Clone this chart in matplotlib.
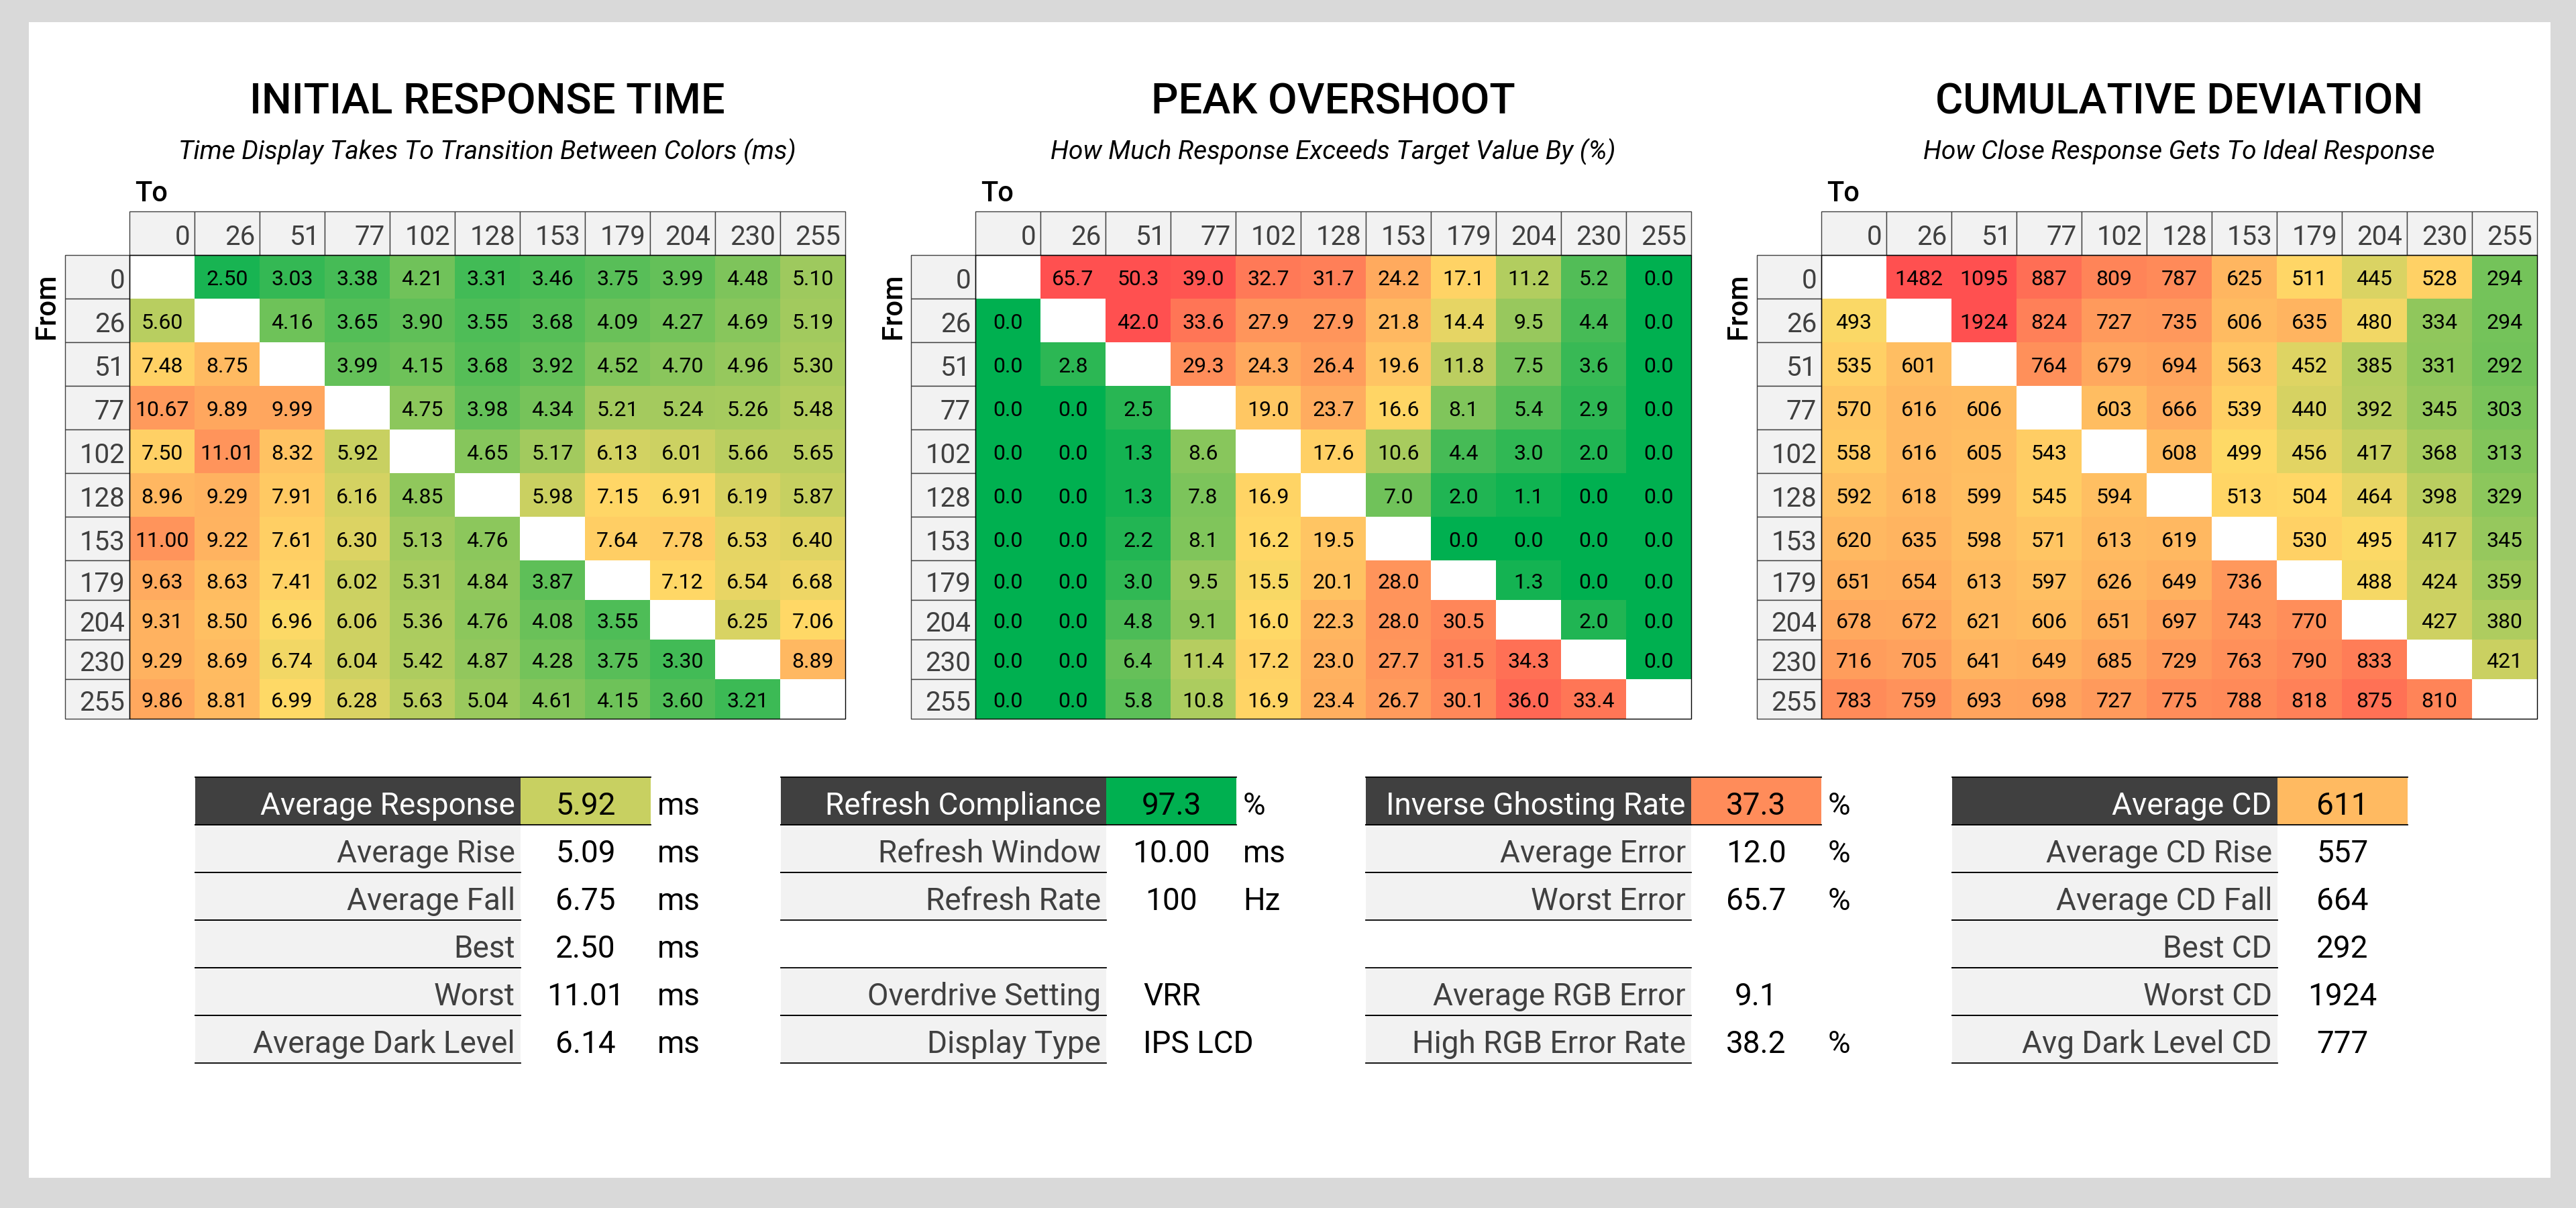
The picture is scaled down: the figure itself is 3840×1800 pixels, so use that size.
import numpy as np
import matplotlib
matplotlib.use("Agg")
import matplotlib.pyplot as plt
from matplotlib.colors import LinearSegmentedColormap, TwoSlopeNorm
from matplotlib.patches import Rectangle

plt.rcParams['font.family'] = ['Roboto', 'DejaVu Sans']

nan = np.nan
levels = [0, 26, 51, 77, 102, 128, 153, 179, 204, 230, 255]

response_ms = [
    [nan, 2.50, 3.03, 3.38, 4.21, 3.31, 3.46, 3.75, 3.99, 4.48, 5.10],
    [5.60, nan, 4.16, 3.65, 3.90, 3.55, 3.68, 4.09, 4.27, 4.69, 5.19],
    [7.48, 8.75, nan, 3.99, 4.15, 3.68, 3.92, 4.52, 4.70, 4.96, 5.30],
    [10.67, 9.89, 9.99, nan, 4.75, 3.98, 4.34, 5.21, 5.24, 5.26, 5.48],
    [7.50, 11.01, 8.32, 5.92, nan, 4.65, 5.17, 6.13, 6.01, 5.66, 5.65],
    [8.96, 9.29, 7.91, 6.16, 4.85, nan, 5.98, 7.15, 6.91, 6.19, 5.87],
    [11.00, 9.22, 7.61, 6.30, 5.13, 4.76, nan, 7.64, 7.78, 6.53, 6.40],
    [9.63, 8.63, 7.41, 6.02, 5.31, 4.84, 3.87, nan, 7.12, 6.54, 6.68],
    [9.31, 8.50, 6.96, 6.06, 5.36, 4.76, 4.08, 3.55, nan, 6.25, 7.06],
    [9.29, 8.69, 6.74, 6.04, 5.42, 4.87, 4.28, 3.75, 3.30, nan, 8.89],
    [9.86, 8.81, 6.99, 6.28, 5.63, 5.04, 4.61, 4.15, 3.60, 3.21, nan],
]

overshoot_pct = [
    [nan, 65.7, 50.3, 39.0, 32.7, 31.7, 24.2, 17.1, 11.2, 5.2, 0.0],
    [0.0, nan, 42.0, 33.6, 27.9, 27.9, 21.8, 14.4, 9.5, 4.4, 0.0],
    [0.0, 2.8, nan, 29.3, 24.3, 26.4, 19.6, 11.8, 7.5, 3.6, 0.0],
    [0.0, 0.0, 2.5, nan, 19.0, 23.7, 16.6, 8.1, 5.4, 2.9, 0.0],
    [0.0, 0.0, 1.3, 8.6, nan, 17.6, 10.6, 4.4, 3.0, 2.0, 0.0],
    [0.0, 0.0, 1.3, 7.8, 16.9, nan, 7.0, 2.0, 1.1, 0.0, 0.0],
    [0.0, 0.0, 2.2, 8.1, 16.2, 19.5, nan, 0.0, 0.0, 0.0, 0.0],
    [0.0, 0.0, 3.0, 9.5, 15.5, 20.1, 28.0, nan, 1.3, 0.0, 0.0],
    [0.0, 0.0, 4.8, 9.1, 16.0, 22.3, 28.0, 30.5, nan, 2.0, 0.0],
    [0.0, 0.0, 6.4, 11.4, 17.2, 23.0, 27.7, 31.5, 34.3, nan, 0.0],
    [0.0, 0.0, 5.8, 10.8, 16.9, 23.4, 26.7, 30.1, 36.0, 33.4, nan],
]

cum_dev = [
    [nan, 1482, 1095, 887, 809, 787, 625, 511, 445, 528, 294],
    [493, nan, 1924, 824, 727, 735, 606, 635, 480, 334, 294],
    [535, 601, nan, 764, 679, 694, 563, 452, 385, 331, 292],
    [570, 616, 606, nan, 603, 666, 539, 440, 392, 345, 303],
    [558, 616, 605, 543, nan, 608, 499, 456, 417, 368, 313],
    [592, 618, 599, 545, 594, nan, 513, 504, 464, 398, 329],
    [620, 635, 598, 571, 613, 619, nan, 530, 495, 417, 345],
    [651, 654, 613, 597, 626, 649, 736, nan, 488, 424, 359],
    [678, 672, 621, 606, 651, 697, 743, 770, nan, 427, 380],
    [716, 705, 641, 649, 685, 729, 763, 790, 833, nan, 421],
    [783, 759, 693, 698, 727, 775, 788, 818, 875, 810, nan],
]

resp_labels = ["Average Response", "Average Rise", "Average Fall", "Best", "Worst", "Average Dark Level"]
resp_values = ["5.92", "5.09", "6.75", "2.50", "11.01", "6.14"]
resp_units = ["ms", "ms", "ms", "ms", "ms", "ms"]

refresh_labels = ["Refresh Compliance", "Refresh Window", "Refresh Rate", "", "Overdrive Setting", "Display Type"]
refresh_values = ["97.3", "10.00", "100", "", "VRR", "IPS LCD"]
refresh_units = ["%", "ms", "Hz", "", "", ""]

ghost_labels = ["Inverse Ghosting Rate", "Average Error", "Worst Error", "", "Average RGB Error", "High RGB Error Rate"]
ghost_values = ["37.3", "12.0", "65.7", "", "9.1", "38.2"]
ghost_units = ["%", "%", "%", "", "", "%"]

cd_labels = ["Average CD", "Average CD Rise", "Average CD Fall", "Best CD", "Worst CD", "Avg Dark Level CD"]
cd_values = ["611", "557", "664", "292", "1924", "777"]
cd_units = ["", "", "", "", "", ""]

GREEN, YELLOW, RED = '#00b050', '#ffd966', '#ff5050'
DARK = '#404040'
LIGHT = '#f2f2f2'

cmap = LinearSegmentedColormap.from_list('gyr', [GREEN, YELLOW, RED])
cmap.set_under(GREEN)
cmap.set_over(RED)
cmap.set_bad('white')

fig = plt.figure(figsize=(38.4, 18), dpi=100, facecolor='#d9d9d9')
ax = fig.add_axes([0, 0, 1, 1])
ax.set_xlim(0, 3840)
ax.set_ylim(1800, 0)
ax.axis('off')
ax.add_patch(Rectangle((43, 33), 3802 - 43, 1755 - 33, fc='white', ec='none', zorder=0))

cell_w = 97
lab_w = 96
head_top = 315
head_h = 65
row_h = [65] * 7 + [59] * 4


def draw_heatmap(x0, data, lo, mid, hi, fmt, title, subtitle):
    vals = np.ma.masked_invalid(np.array(data, dtype=float))
    xe = x0 + cell_w * np.arange(12)
    ye = head_top + head_h + np.concatenate([[0], np.cumsum(row_h)])
    ax.pcolormesh(xe, ye, vals, cmap=cmap, norm=TwoSlopeNorm(mid, lo, hi), zorder=2)

    for j, lv in enumerate(levels):
        ax.add_patch(Rectangle((xe[j], head_top), cell_w, head_h, fc=LIGHT, ec=DARK, lw=1, zorder=3))
        ax.text(xe[j + 1] - 7, head_top + head_h / 2 + 2, str(lv), ha='right', va='center_baseline',
                fontsize=29, color=DARK, zorder=4)
    for i, lv in enumerate(levels):
        ax.add_patch(Rectangle((x0 - lab_w, ye[i]), lab_w, ye[i + 1] - ye[i], fc=LIGHT, ec=DARK, lw=1, zorder=3))
        ax.text(x0 - 7, (ye[i] + ye[i + 1]) / 2 + 2, str(lv), ha='right', va='center_baseline',
                fontsize=29, color=DARK, zorder=4)

    for i in range(11):
        for j in range(11):
            v = data[i][j]
            if np.isnan(v):
                continue
            ax.text((xe[j] + xe[j + 1]) / 2, (ye[i] + ye[i + 1]) / 2 + 1, fmt.format(v),
                    ha='center', va='center_baseline', fontsize=23, color='black', zorder=4)

    ax.add_patch(Rectangle((x0, ye[0]), 11 * cell_w, ye[-1] - ye[0], fill=False, ec='black', lw=1, zorder=5))

    cx = x0 + 11 * cell_w / 2
    ax.text(cx, 152, title, ha='center', va='center', fontsize=45.5, weight='medium', color='black')
    ax.text(cx, 226, subtitle, ha='center', va='center', fontsize=28, style='italic', color='black')
    ax.text(x0 + 8, 288, "To", ha='left', va='center', fontsize=30, weight='medium', color='black')
    ax.text(x0 - lab_w - 27, 456, "From", ha='center', va='center', fontsize=30, weight='medium',
            rotation=90, color='black')


draw_heatmap(193, response_ms, 2.0, 7.0, 15.0, "{:.2f}", "INITIAL RESPONSE TIME",
             "Time Display Takes To Transition Between Colors (ms)")
draw_heatmap(1454, overshoot_pct, 0.0, 16.0, 40.0, "{:.1f}", "PEAK OVERSHOOT",
             "How Much Response Exceeds Target Value By (%)")
draw_heatmap(2715, cum_dev, 120, 500, 1000, "{:.0f}", "CUMULATIVE DEVIATION",
             "How Close Response Gets To Ideal Response")

tab_top = 1158
tab_h = 71
tlab_w = 485
tval_w = 194

resp_norm = TwoSlopeNorm(7.0, 2.0, 15.0)
cd_norm = TwoSlopeNorm(500, 120, 1000)


def draw_summary(x0, labels, values, units, head_color):
    for r, (lab, val, unit) in enumerate(zip(labels, values, units)):
        if not lab:
            continue
        y = tab_top + r * tab_h
        cy = y + tab_h / 2 + 3
        if r == 0:
            ax.add_patch(Rectangle((x0, y), tlab_w, tab_h, fc=DARK, ec='none', zorder=2))
            ax.add_patch(Rectangle((x0 + tlab_w, y), tval_w, tab_h, fc=head_color, ec='none', zorder=2))
            ax.plot([x0, x0 + tlab_w + tval_w], [y, y], color='black', lw=1.3, zorder=3)
            ax.plot([x0, x0 + tlab_w + tval_w], [y + tab_h, y + tab_h], color='black', lw=1.3, zorder=3)
            lab_color = 'white'
        else:
            ax.add_patch(Rectangle((x0, y), tlab_w, tab_h, fc=LIGHT, ec='none', zorder=2))
            ax.plot([x0, x0 + tlab_w], [y, y], color='black', lw=1.3, zorder=3)
            ax.plot([x0, x0 + tlab_w], [y + tab_h, y + tab_h], color='black', lw=1.3, zorder=3)
            lab_color = DARK
        ax.text(x0 + tlab_w - 8, cy, lab, ha='right', va='center_baseline', fontsize=33,
                color=lab_color, zorder=4)
        try:
            float(val)
            ax.text(x0 + tlab_w + tval_w / 2, cy, val, ha='center', va='center_baseline', fontsize=33,
                    color='black', zorder=4)
        except ValueError:
            ax.text(x0 + tlab_w + 55, cy, val, ha='left', va='center_baseline', fontsize=33,
                    color='black', zorder=4)
        if unit:
            ax.text(x0 + tlab_w + tval_w + 10, cy, unit, ha='left', va='center_baseline', fontsize=33,
                    color='black', zorder=4)


draw_summary(291, resp_labels, resp_values, resp_units, cmap(resp_norm(float(resp_values[0]))))
draw_summary(1164, refresh_labels, refresh_values, refresh_units, GREEN)
draw_summary(2036, ghost_labels, ghost_values, ghost_units, '#ff8c5a')
draw_summary(2910, cd_labels, cd_values, cd_units, cmap(cd_norm(float(cd_values[0]))))

fig.savefig("out.png", dpi=100, facecolor=fig.get_facecolor())
